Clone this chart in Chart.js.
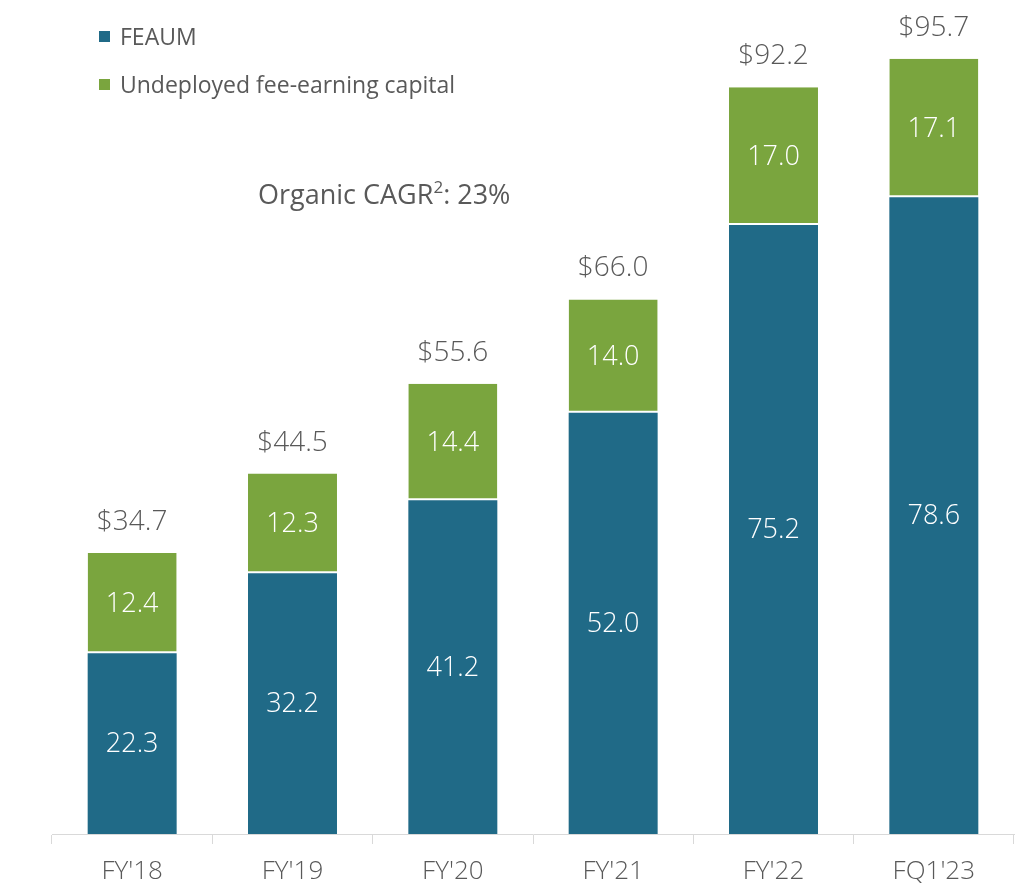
<!DOCTYPE html>
<html>
<head>
<meta charset="utf-8">
<script src="https://cdn.jsdelivr.net/npm/chart.js@4/dist/chart.umd.min.js"></script>
<style>
  html, body { margin: 0; padding: 0; background: #ffffff; }
  #wrap { position: relative; width: 1025px; height: 893px; }
  #c { position: absolute; left: 0; top: 0; }
  .legend { position: absolute; left: 99px; font-family: "Open Sans", sans-serif; font-size: 23px; color: #595959; display: flex; align-items: center; white-space: nowrap; }
  .legend span.sw { display: inline-block; width: 11px; height: 11px; margin-right: 10px; }
  #cagr { position: absolute; left: 258px; top: 175px; font-family: "Open Sans", sans-serif; font-size: 27px; color: #595959; white-space: nowrap; }
  #cagr sup { font-size: 17px; vertical-align: 11px; line-height: 0; }
</style>
</head>
<body>
<div id="wrap">
  <canvas id="c" width="1025" height="893"></canvas>
  <div class="legend" style="top:20px;"><span class="sw" style="background:#206A87"></span>FEAUM</div>
  <div class="legend" style="top:68px;"><span class="sw" style="background:#7AA53E"></span>Undeployed fee-earning capital</div>
  <div id="cagr">Organic CAGR<sup>2</sup>: 23%</div>
</div>
<script>
const categories = ["FY'18", "FY'19", "FY'20", "FY'21", "FY'22", "FQ1'23"];
const feaum = [22.3, 32.2, 41.2, 52.0, 75.2, 78.6];
const undeployed = [12.4, 12.3, 14.4, 14.0, 17.0, 17.1];
const totals = ["$34.7", "$44.5", "$55.6", "$66.0", "$92.2", "$95.7"];

const BLUE = '#206A87';
const GREEN = '#7AA53E';
const GRAY = '#595959';
const FONT = '"Open Sans", sans-serif';

const labelPlugin = {
  id: 'labels',
  afterDatasetsDraw(chart) {
    const ctx = chart.ctx;
    ctx.save();
    ctx.textAlign = 'center';
    ctx.textBaseline = 'middle';
    chart.data.datasets.forEach((ds, di) => {
      const meta = chart.getDatasetMeta(di);
      meta.data.forEach((el, i) => {
        const p = el.getProps(['x', 'y', 'base'], true);
        ctx.font = '300 27px ' + FONT;
        ctx.fillStyle = '#ffffff';
        ctx.fillText(ds.data[i].toFixed(1), p.x, (p.y + p.base) / 2 + 1);
        if (di === 1) {
          ctx.font = '300 28px ' + FONT;
          ctx.fillStyle = GRAY;
          ctx.fillText(totals[i], p.x, p.y - 31);
        }
      });
    });
    ctx.restore();
  }
};

new Chart(document.getElementById('c'), {
  type: 'bar',
  data: {
    labels: categories,
    datasets: [
      { label: 'FEAUM', data: feaum, backgroundColor: BLUE, borderWidth: 0 },
      { label: 'Undeployed fee-earning capital', data: undeployed, backgroundColor: GREEN,
        borderColor: '#ffffff', borderWidth: { bottom: 2, top: 0, left: 0, right: 0 }, borderSkipped: false }
    ]
  },
  options: {
    responsive: false,
    animation: false,
    events: [],
    layout: { padding: { left: 52, right: 11, top: 24, bottom: 0 } },
    plugins: { legend: { display: false }, tooltip: { enabled: false } },
    datasets: { bar: { categoryPercentage: 1.0, barPercentage: 0.555 } },
    scales: {
      x: {
        stacked: true,
        grid: { offset: true, drawOnChartArea: false, drawTicks: true, tickLength: 10, color: '#d9d9d9', lineWidth: 1 },
        border: { display: true, color: '#d9d9d9', width: 1 },
        ticks: { color: GRAY, font: { family: FONT, size: 26, weight: 300 }, padding: 12, maxRotation: 0 },
        afterFit: (s) => { s.height = 59; }
      },
      y: {
        stacked: true, display: false, min: 0, max: 100
      }
    }
  },
  plugins: [labelPlugin]
});
</script>
</body>
</html>
